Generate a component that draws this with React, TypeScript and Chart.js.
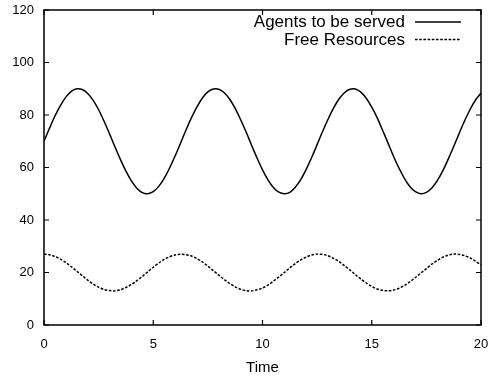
import React, { useEffect, useRef } from "react";
import { Chart, registerables } from "chart.js";

Chart.register(...registerables);

const timeValues = [
  0, 0.25, 0.5, 0.75, 1, 1.25, 1.5, 1.75, 2, 2.25, 2.5, 2.75, 3, 3.25, 3.5, 3.75,
  4, 4.25, 4.5, 4.75, 5, 5.25, 5.5, 5.75, 6, 6.25, 6.5, 6.75, 7, 7.25, 7.5, 7.75,
  8, 8.25, 8.5, 8.75, 9, 9.25, 9.5, 9.75, 10, 10.25, 10.5, 10.75, 11, 11.25, 11.5,
  11.75, 12, 12.25, 12.5, 12.75, 13, 13.25, 13.5, 13.75, 14, 14.25, 14.5, 14.75,
  15, 15.25, 15.5, 15.75, 16, 16.25, 16.5, 16.75, 17, 17.25, 17.5, 17.75, 18,
  18.25, 18.5, 18.75, 19, 19.25, 19.5, 19.75, 20,
];

const agentsToBeServed = [
  70.0, 74.9, 79.6, 83.6, 86.8, 89.0, 90.0, 89.7, 88.2, 85.6, 82.0, 77.6, 72.8,
  67.8, 63.0, 58.6, 54.9, 52.1, 50.4, 50.0, 50.8, 52.8, 55.9, 59.8, 64.4, 69.3,
  74.3, 79.0, 83.1, 86.5, 88.8, 89.9, 89.8, 88.5, 86.0, 82.5, 78.2, 73.5, 68.5,
  63.6, 59.1, 55.3, 52.4, 50.6, 50.0, 50.5, 52.5, 55.4, 59.3, 63.8, 68.7, 73.7,
  78.4, 82.6, 86.1, 88.5, 89.8, 89.9, 88.7, 86.4, 83.0, 78.9, 74.1, 69.2, 64.2,
  59.7, 55.8, 52.7, 50.8, 50.0, 50.5, 52.2, 55.0, 58.7, 63.2, 68.0, 73.0, 77.8,
  82.1, 85.7, 88.3,
];

const freeResources = [
  27.0, 26.8, 26.1, 25.1, 23.8, 22.2, 20.5, 18.8, 17.1, 15.6, 14.4, 13.5, 13.1,
  13.0, 13.4, 14.3, 15.4, 16.9, 18.5, 20.3, 22.0, 23.6, 25.0, 26.0, 26.7, 27.0,
  26.8, 26.3, 25.3, 24.0, 22.4, 20.7, 19.0, 17.3, 15.8, 14.5, 13.6, 13.1, 13.0,
  13.4, 14.1, 15.2, 16.7, 18.3, 20.0, 21.8, 23.4, 24.8, 25.9, 26.7, 27.0, 26.9,
  26.4, 25.4, 24.2, 22.6, 21.0, 19.2, 17.5, 16.0, 14.7, 13.7, 13.2, 13.0, 13.3,
  14.0, 15.1, 16.5, 18.1, 19.8, 21.5, 23.2, 24.6, 25.8, 26.6, 27.0, 26.9, 26.4,
  25.6, 24.3, 22.9,
];

const xTicks = [0, 5, 10, 15, 20];
const yTicks = [0, 20, 40, 60, 80, 100, 120];
const seriesLabels = ["Agents to be served", "Free Resources"];
const xTitle = "Time";

const FONT = "'Liberation Sans', Arial, Helvetica, sans-serif";
const DASH = [2.6, 1.6];

const framePlugin = {
  id: "frameTicks",
  afterDraw(chart: any) {
    const { ctx, chartArea } = chart;
    const { left, right, top, bottom } = chartArea;
    const xs = chart.scales.x;
    const ys = chart.scales.y;
    ctx.save();
    ctx.strokeStyle = "#000";
    ctx.lineWidth = 1.5;
    ctx.strokeRect(left, top, right - left, bottom - top);
    ctx.lineWidth = 1.2;
    const tl = 5;
    ctx.beginPath();
    xTicks.forEach((v) => {
      const px = xs.getPixelForValue(v);
      ctx.moveTo(px, bottom);
      ctx.lineTo(px, bottom - tl);
      ctx.moveTo(px, top);
      ctx.lineTo(px, top + tl);
    });
    yTicks.forEach((v) => {
      const py = ys.getPixelForValue(v);
      ctx.moveTo(left, py);
      ctx.lineTo(left + tl, py);
      ctx.moveTo(right, py);
      ctx.lineTo(right - tl, py);
    });
    ctx.stroke();

    // legend
    ctx.font = `17px ${FONT}`;
    ctx.fillStyle = "#000";
    ctx.textAlign = "right";
    ctx.textBaseline = "middle";
    const rows = [
      { y: 22, dash: [] as number[] },
      { y: 39.5, dash: DASH },
    ];
    rows.forEach((r, i) => {
      ctx.fillText(seriesLabels[i], 405, r.y + 0.8);
      ctx.beginPath();
      ctx.setLineDash(r.dash);
      ctx.lineWidth = 1.5;
      ctx.moveTo(415, r.y);
      ctx.lineTo(461, r.y);
      ctx.stroke();
    });
    ctx.setLineDash([]);
    ctx.restore();
  },
};

export default function App() {
  const ref = useRef<HTMLCanvasElement | null>(null);

  useEffect(() => {
    document.body.style.margin = "0";
    const canvas = ref.current;
    if (!canvas) return;
    const chart = new Chart(canvas, {
      type: "line",
      data: {
        datasets: [
          {
            label: seriesLabels[0],
            data: timeValues.map((t, i) => ({ x: t, y: agentsToBeServed[i] })),
            borderColor: "#000",
            borderWidth: 1.5,
            pointRadius: 0,
            fill: false,
            tension: 0.3,
          },
          {
            label: seriesLabels[1],
            data: timeValues.map((t, i) => ({ x: t, y: freeResources[i] })),
            borderColor: "#000",
            borderWidth: 1.5,
            borderDash: DASH,
            pointRadius: 0,
            fill: false,
            tension: 0.3,
          },
        ],
      },
      options: {
        responsive: false,
        animation: false,
        layout: { padding: { top: 10, right: 9, left: 0, bottom: 0 } },
        plugins: {
          legend: { display: false },
          tooltip: { enabled: false },
        },
        scales: {
          x: {
            type: "linear",
            min: 0,
            max: 20,
            grid: { display: false, drawTicks: false },
            border: { display: false },
            afterBuildTicks: (s: any) => {
              s.ticks = xTicks.map((v) => ({ value: v }));
            },
            afterFit: (s: any) => {
              s.height = 52;
              s.paddingLeft = 0;
              s.paddingRight = 0;
            },
            ticks: {
              color: "#000",
              padding: 12,
              maxRotation: 0,
              font: { family: FONT, size: 13 },
            },
            title: {
              display: true,
              text: xTitle,
              color: "#000",
              padding: { top: 0, bottom: 0 },
              font: { family: FONT, size: 15 },
            },
          },
          y: {
            type: "linear",
            min: 0,
            max: 120,
            grid: { display: false, drawTicks: false },
            border: { display: false },
            afterBuildTicks: (s: any) => {
              s.ticks = yTicks.map((v) => ({ value: v }));
            },
            afterFit: (s: any) => {
              s.width = 44;
              s.paddingTop = 0;
              s.paddingBottom = 0;
            },
            ticks: {
              color: "#000",
              padding: 10,
              font: { family: FONT, size: 13 },
            },
          },
        },
      },
      plugins: [framePlugin],
    });
    return () => chart.destroy();
  }, []);

  return (
    <div style={{ width: 490, height: 377 }}>
      <canvas ref={ref} width={490} height={377} />
    </div>
  );
}
